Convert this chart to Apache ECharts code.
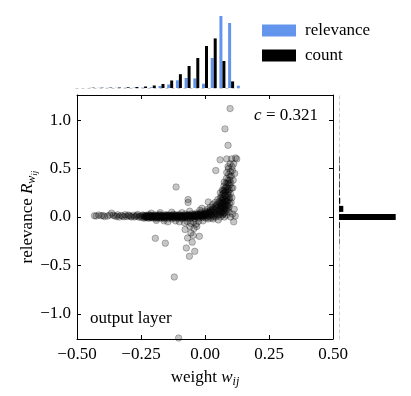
<!DOCTYPE html>
<html>
<head>
<meta charset="utf-8">
<script src="https://cdn.jsdelivr.net/npm/echarts@6/dist/echarts.min.js"></script>
<style>
html, body { margin: 0; padding: 0; background: #fff; }
#chart { width: 411px; height: 396px; }
</style>
</head>
<body>
<div id="chart"></div>
<script>
var FONT = 'Liberation Serif';
var BLUE = '#6495ED';

// top histogram: bin centres of weight w_ij
var wBins = [-0.442, -0.408, -0.374, -0.34, -0.306, -0.272, -0.238, -0.204, -0.17,
  -0.136, -0.102, -0.068, -0.034, 0, 0.034, 0.068, 0.102, 0.136];
var relevanceHist = [0.2, 0.2, 0.2, 0.2, 0.3, 0.3, 0.4, 0.7, 2, 3.5, 7.7, 10, 9.6, 4.3, 30, 72, 65, 2.3];
var countHist = [0.3, 0.3, 0.4, 0.5, 0.7, 1, 1.5, 2.5, 4, 7.5, 13.8, 22, 30, 42, 49.6, 27, 6.6, 0];

// right histogram: bin centres of relevance R_w
var rBins = ['-1.26', '-1.18', '-1.09', '-1.01', '-0.92', '-0.84', '-0.76', '-0.67', '-0.59', '-0.50',
  '-0.42', '-0.34', '-0.25', '-0.17', '-0.08', '0.00', '0.08', '0.17', '0.25', '0.34', '0.42',
  '0.50', '0.59', '0.67', '0.76', '0.84', '0.92', '1.01', '1.09', '1.18', '1.26'];
var rCountHist = [0, 0, 0, 0, 0, 0, 0, 0, 0, 0, 0, 0, 0.4, 0.5, 0.8, 56.7, 4.3, 1.2, 0.8, 0.7, 0.6,
  0.6, 0.5, 0, 0, 0, 0, 0, 0, 0, 0];

// scatter of (w_ij, R_wij)
var points = [
  [-0.432, 0.013], [-0.405, 0.012], [-0.392, 0.005], [-0.372, 0.02], [-0.365, 0.04], [-0.352, 0.01],
  [-0.341, 0.022], [-0.335, 0.0], [-0.322, 0.01], [-0.312, 0.024], [-0.305, 0.004], [-0.296, 0.012],
  [-0.287, 0.0], [-0.279, 0.018], [-0.27, 0.008], [-0.263, 0.026], [-0.258, -0.002], [-0.251, 0.012],
  [-0.246, -0.006], [-0.241, 0.016],
  [-0.425, 0.01], [-0.415, 0.02], [-0.398, 0.015], [-0.38, 0.01], [-0.358, 0.018], [-0.345, 0.006],
  [-0.328, 0.016], [-0.316, 0.002], [-0.3, 0.02], [-0.29, 0.008], [-0.275, 0.0], [-0.266, 0.014],
  [-0.254, 0.004], [-0.243, 0.02],
  [-0.238, 0.006], [-0.238, -0.012], [-0.232, 0.018], [-0.232, -0.004], [-0.226, 0.0], [-0.226, 0.012],
  [-0.22, -0.014], [-0.22, 0.024], [-0.214, 0.008], [-0.214, -0.006], [-0.208, 0.016], [-0.208, 0.0],
  [-0.202, -0.01], [-0.202, 0.01], [-0.196, 0.022], [-0.196, -0.002], [-0.19, 0.004], [-0.19, -0.016],
  [-0.184, 0.014], [-0.184, -0.006], [-0.178, 0.0], [-0.178, 0.026], [-0.172, -0.012], [-0.172, 0.008],
  [-0.166, 0.018], [-0.166, -0.002], [-0.16, 0.006], [-0.16, -0.018], [-0.154, 0.024], [-0.154, -0.008],
  [-0.148, 0.0], [-0.148, 0.012], [-0.142, -0.014], [-0.142, 0.02], [-0.136, 0.008], [-0.136, -0.004],
  [-0.13, 0.016], [-0.13, -0.02], [-0.124, 0.002], [-0.124, 0.028], [-0.118, -0.01], [-0.118, 0.012],
  [-0.112, 0.02], [-0.112, -0.002], [-0.106, 0.006], [-0.106, -0.016], [-0.1, 0.026], [-0.1, -0.006],
  [-0.094, 0.0], [-0.094, 0.014], [-0.088, -0.018], [-0.088, 0.008], [-0.082, 0.018], [-0.082, -0.004],
  [-0.076, 0.004], [-0.076, 0.03], [-0.07, -0.012], [-0.07, 0.012], [-0.064, 0.022], [-0.064, 0.0],
  [-0.058, 0.008], [-0.058, -0.02], [-0.052, 0.032], [-0.052, -0.006], [-0.046, 0.014], [-0.046, 0.0],
  [-0.04, -0.016], [-0.04, 0.024], [-0.034, 0.006], [-0.034, 0.04], [-0.028, -0.004], [-0.028, 0.018],
  [-0.022, 0.03], [-0.022, -0.012], [-0.016, 0.01], [-0.016, 0.05], [-0.01, -0.006], [-0.01, 0.024],
  [-0.004, 0.04], [-0.004, 0.008],
  [-0.235, 0.0], [-0.229, 0.01], [-0.223, 0.004], [-0.217, 0.014], [-0.211, -0.002], [-0.205, 0.008],
  [-0.199, 0.002], [-0.193, 0.012], [-0.187, -0.004], [-0.181, 0.006], [-0.175, 0.012], [-0.169, 0.0],
  [-0.163, 0.01], [-0.157, 0.004], [-0.151, 0.014], [-0.145, 0.002], [-0.139, 0.008], [-0.133, 0.0],
  [-0.127, 0.012], [-0.121, 0.004], [-0.115, 0.008], [-0.109, 0.0], [-0.103, 0.012], [-0.097, 0.004],
  [-0.091, 0.01], [-0.085, 0.0], [-0.079, 0.01], [-0.073, 0.004], [-0.067, 0.014], [-0.061, 0.006],
  [-0.055, 0.012], [-0.049, 0.002], [-0.043, 0.01], [-0.037, 0.018], [-0.031, 0.006], [-0.025, 0.012],
  [-0.019, 0.024], [-0.013, 0.004], [-0.007, 0.016], [-0.001, 0.02],
  [-0.232, 0.008], [-0.226, -0.006], [-0.22, 0.006], [-0.214, 0.018], [-0.208, -0.008], [-0.202, 0.004],
  [-0.196, 0.01], [-0.19, 0.016], [-0.184, 0.002], [-0.178, -0.01], [-0.172, 0.016], [-0.166, 0.006],
  [-0.16, -0.004], [-0.154, 0.008], [-0.148, 0.02], [-0.142, 0.004], [-0.136, 0.016], [-0.13, 0.004],
  [-0.124, -0.008], [-0.118, 0.02], [-0.112, 0.008], [-0.106, 0.018], [-0.1, 0.006], [-0.094, -0.008],
  [-0.088, 0.018], [-0.082, 0.006], [-0.076, -0.008], [-0.07, 0.02], [-0.064, 0.01], [-0.058, 0.018],
  [-0.052, 0.012], [-0.046, 0.026], [-0.04, 0.004], [-0.034, 0.022], [-0.028, 0.03], [-0.022, 0.01],
  [-0.016, 0.03], [-0.01, 0.01], [-0.004, 0.024],
  [-0.229, 0.002], [-0.217, 0.004], [-0.205, 0.012], [-0.193, 0.004], [-0.181, 0.012], [-0.169, 0.006],
  [-0.157, 0.012], [-0.145, 0.008], [-0.133, 0.01], [-0.121, 0.008], [-0.109, 0.01], [-0.097, 0.012],
  [-0.085, 0.008], [-0.073, 0.012], [-0.061, 0.014], [-0.049, 0.01], [-0.037, 0.008], [-0.025, 0.022],
  [-0.013, 0.018], [-0.001, 0.03],
  [-0.21, 0.04], [-0.19, -0.035], [-0.175, 0.045], [-0.16, -0.04], [-0.145, -0.05], [-0.13, 0.05],
  [-0.115, -0.04], [-0.1, -0.05], [-0.09, 0.045], [-0.08, -0.06], [-0.07, -0.045], [-0.06, 0.06],
  [-0.055, -0.065], [-0.045, -0.05], [-0.035, -0.075], [-0.025, -0.045], [-0.02, 0.07], [-0.012, 0.09],
  [-0.008, -0.04],
  [-0.068, -0.217], [-0.055, -0.165], [-0.043, -0.12], [-0.022, -0.2], [-0.073, -0.32], [-0.061, -0.406],
  [-0.04, -0.355], [-0.05, -0.26], [-0.078, -0.13], [-0.059, -0.097], [-0.032, -0.097], [-0.046, -0.19],
  [-0.194, -0.22], [-0.155, -0.27], [-0.12, -0.62], [-0.103, -1.25],
  [-0.113, 0.31], [-0.066, 0.18], [-0.066, 0.15], [0.013, 0.155], [0.098, 1.12], [0.078, 0.91],
  [0.09, 0.74], [0.059, 0.59], [0.085, 0.6], [0.104, 0.6], [0.119, 0.61], [0.042, 0.48],
  [0.0, 0.03], [0.0, 0.06], [0.002, -0.01], [0.006, 0.02], [0.008, 0.05], [0.01, 0.08], [0.01, 0.0],
  [0.012, -0.02], [0.016, 0.01], [0.018, 0.04], [0.02, 0.07], [0.02, 0.1], [0.022, -0.01],
  [0.026, 0.02], [0.028, 0.05], [0.03, 0.09], [0.03, 0.13], [0.032, -0.02], [0.034, 0.0],
  [0.036, 0.03], [0.038, 0.07], [0.04, 0.11], [0.04, 0.15], [0.042, 0.0], [0.044, 0.05],
  [0.046, 0.09], [0.048, 0.13], [0.05, 0.18], [0.05, 0.02], [0.052, -0.03], [0.054, 0.06],
  [0.056, 0.11], [0.058, 0.15], [0.06, 0.2], [0.06, 0.0], [0.062, 0.04], [0.064, 0.08],
  [0.064, 0.13], [0.066, 0.17], [0.066, 0.23], [0.068, 0.28], [0.068, 0.02], [0.07, 0.06],
  [0.07, 0.1], [0.072, 0.15], [0.072, 0.2], [0.074, 0.25], [0.074, 0.32], [0.076, 0.0],
  [0.076, 0.04], [0.078, 0.09], [0.078, 0.13], [0.08, 0.18], [0.08, 0.22], [0.082, 0.27],
  [0.082, 0.35], [0.084, 0.4], [0.084, 0.02], [0.086, 0.07], [0.086, 0.12], [0.088, 0.17],
  [0.088, 0.24], [0.09, 0.3], [0.09, 0.38], [0.092, 0.44], [0.092, 0.5], [0.094, 0.05],
  [0.094, 0.1], [0.096, 0.2], [0.096, 0.33], [0.098, 0.42], [0.098, 0.55], [0.1, 0.47],
  [0.1, 0.0], [0.102, 0.15], [0.104, 0.3], [0.106, 0.52], [0.108, 0.03], [0.11, 0.38],
  [0.112, -0.05], [0.114, 0.08], [0.116, 0.45], [0.118, 0.01], [0.124, 0.6],
  [0.003, 0.015], [0.007, 0.035], [0.011, 0.01], [0.015, 0.03], [0.019, 0.055], [0.023, 0.025],
  [0.027, 0.075], [0.031, 0.01], [0.035, 0.05], [0.039, 0.02], [0.043, 0.1], [0.047, 0.035],
  [0.051, 0.07], [0.055, 0.02], [0.057, 0.04], [0.059, 0.1], [0.061, 0.14], [0.063, 0.06],
  [0.067, 0.11], [0.069, 0.15], [0.071, 0.03], [0.073, 0.08], [0.075, 0.18], [0.077, 0.22],
  [0.079, 0.05], [0.081, 0.12], [0.083, 0.16], [0.085, 0.2], [0.087, 0.28], [0.089, 0.09],
  [0.091, 0.22], [0.093, 0.35], [0.095, 0.28], [0.097, 0.38], [0.099, 0.24], [0.101, 0.35],
  [0.103, 0.42], [0.105, 0.2], [0.107, 0.48], [0.109, 0.3], [0.112, 0.55], [0.08, 0.3],
  [0.085, 0.46], [0.09, 0.52], [0.075, 0.36], [0.07, 0.27], [0.065, 0.2], [0.06, 0.25],
  [0.055, 0.16], [0.045, 0.12], [0.035, 0.08], [0.025, 0.06], [0.015, 0.05], [0.005, 0.04],
  [0.058, 0.08], [0.062, 0.11], [0.066, 0.05], [0.07, 0.13], [0.074, 0.1], [0.078, 0.16],
  [0.082, 0.08], [0.086, 0.16], [0.09, 0.12], [0.094, 0.18], [0.068, 0.18], [0.072, 0.24],
  [0.076, 0.28], [0.08, 0.26], [0.084, 0.31], [0.088, 0.35], [0.092, 0.26], [0.096, 0.14]
];

var yTicks = [-1, -0.5, 0, 0.5, 1];

function fmt(v, d) {
  return (v < 0 ? '\u2212' : '') + Math.abs(v).toFixed(d);
}

var tick = { show: true, inside: true, length: 4, lineStyle: { color: '#000', width: 1 } };
var frame = { show: true, onZero: false, lineStyle: { color: '#000', width: 1 } };
var txt = { fontFamily: FONT, fontSize: 17, color: '#000' };
var dashed = { color: '#cccccc', width: 1, type: [3, 3] };

var wBarsRel = wBins.map(function (w, i) { return [w, relevanceHist[i]]; });
var wBarsCnt = wBins.map(function (w, i) { return [w, countHist[i]]; });

var chart = echarts.init(document.getElementById('chart'));
chart.setOption({
  animation: false,
  grid: [
    { left: 77, top: 95, width: 256, height: 244 },
    { left: 77, top: 12, width: 256, height: 76 },
    { left: 339, top: 95, width: 72, height: 244 }
  ],
  legend: {
    data: ['relevance', 'count'],
    orient: 'vertical', left: 257, top: 17,
    itemWidth: 34, itemHeight: 12, itemGap: 8,
    icon: 'rect', selectedMode: false,
    textStyle: { fontFamily: FONT, fontSize: 17, color: '#000', padding: [0, 0, 0, 4] }
  },
  xAxis: [
    {
      gridIndex: 0, type: 'value', min: -0.5, max: 0.5, interval: 0.25,
      axisLine: frame, axisTick: tick, splitLine: { show: false },
      axisLabel: Object.assign({ margin: 7, formatter: function (v) { return fmt(v, 2); } }, txt),
      name: 'weight {i|w}{s|ij}', nameLocation: 'middle', nameGap: 28, nameMoveOverlap: false,
      nameTextStyle: Object.assign({
        rich: {
          i: { fontFamily: FONT, fontSize: 17, fontStyle: 'italic', color: '#000' },
          s: { fontFamily: FONT, fontSize: 12, fontStyle: 'italic', color: '#000', padding: [9, 0, 0, 0] }
        }
      }, txt)
    },
    {
      gridIndex: 0, type: 'value', position: 'top', min: -0.5, max: 0.5, interval: 0.25,
      axisLine: frame, axisTick: tick, axisLabel: { show: false }, splitLine: { show: false }
    },
    { gridIndex: 1, type: 'value', min: -0.5, max: 0.5, show: false },
    { gridIndex: 2, type: 'value', min: 0, max: 72, show: false }
  ],
  yAxis: [
    {
      gridIndex: 0, type: 'value', min: -1.26, max: 1.26,
      axisLine: frame, axisTick: Object.assign({ customValues: yTicks }, tick), splitLine: { show: false },
      axisLabel: Object.assign({ margin: 6, customValues: yTicks, formatter: function (v) { return fmt(v, 1); } }, txt),
      name: 'relevance {i|R}{s|w}{ss|ij}', nameLocation: 'middle', nameGap: 38, nameRotate: 90,
      nameMoveOverlap: false,
      nameTextStyle: Object.assign({
        rich: {
          i: { fontFamily: FONT, fontSize: 17, fontStyle: 'italic', color: '#000' },
          s: { fontFamily: FONT, fontSize: 12, fontStyle: 'italic', color: '#000', padding: [9, 0, 0, 0] },
          ss: { fontFamily: FONT, fontSize: 9, fontStyle: 'italic', color: '#000', padding: [14, 0, 0, 0] }
        }
      }, txt)
    },
    {
      gridIndex: 0, type: 'value', position: 'right', min: -1.26, max: 1.26,
      axisLine: frame, axisTick: Object.assign({ customValues: yTicks }, tick),
      axisLabel: { show: false, customValues: yTicks }, splitLine: { show: false }
    },
    { gridIndex: 1, type: 'value', min: 0, max: 76, show: false },
    {
      gridIndex: 2, type: 'category', data: rBins, boundaryGap: false,
      axisLine: { show: true, lineStyle: dashed }, axisTick: { show: false },
      axisLabel: { show: false }, splitLine: { show: false }
    }
  ],
  series: [
    {
      type: 'scatter', name: 'points', xAxisIndex: 0, yAxisIndex: 0,
      data: points, symbol: 'circle', symbolSize: 6.5,
      itemStyle: { color: 'rgba(0,0,0,0.28)', borderColor: 'rgba(0,0,0,0.32)', borderWidth: 1 },
      emphasis: { disabled: true }, z: 3
    },
    {
      type: 'bar', name: 'relevance', xAxisIndex: 2, yAxisIndex: 2,
      data: wBarsRel, barWidth: 3, barGap: '0%',
      itemStyle: { color: BLUE },
      emphasis: { disabled: true },
      markLine: {
        silent: true, symbol: ['none', 'none'], label: { show: false },
        lineStyle: dashed,
        data: [[{ coord: [-0.5, 0] }, { coord: [0.14, 0] }]]
      }
    },
    {
      type: 'bar', name: 'count', xAxisIndex: 2, yAxisIndex: 2,
      data: wBarsCnt, barWidth: 3, barGap: '0%',
      itemStyle: { color: '#000' },
      emphasis: { disabled: true }
    },
    {
      type: 'bar', name: 'count', xAxisIndex: 3, yAxisIndex: 3,
      data: rCountHist, barWidth: 6,
      itemStyle: { color: '#000' },
      emphasis: { disabled: true }
    }
  ],
  graphic: [
    {
      type: 'text', x: 318, y: 116,
      style: {
        text: '{i|c} = 0.321', align: 'right', verticalAlign: 'middle',
        fontFamily: FONT, fontSize: 17, fill: '#000',
        rich: { i: { fontFamily: FONT, fontSize: 17, fontStyle: 'italic', fill: '#000' } }
      }
    },
    {
      type: 'text', x: 90, y: 319,
      style: {
        text: 'output layer', align: 'left', verticalAlign: 'middle',
        fontFamily: FONT, fontSize: 17, fill: '#000'
      }
    }
  ]
});
</script>
</body>
</html>
